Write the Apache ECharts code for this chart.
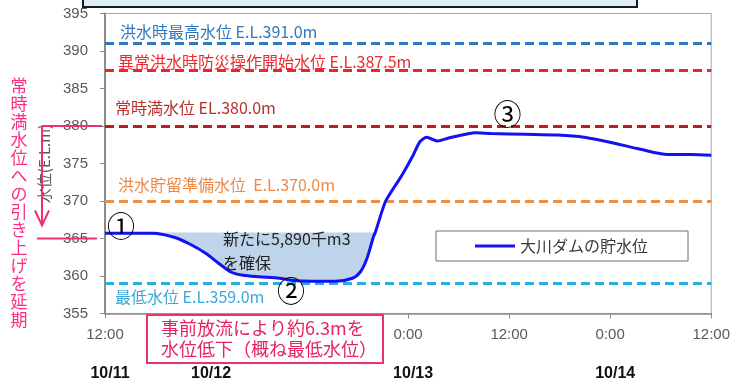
<!DOCTYPE html>
<html>
<head>
<meta charset="utf-8">
<script src="https://cdn.jsdelivr.net/npm/echarts@6/dist/echarts.min.js"></script>
<style>
  html, body { margin: 0; padding: 0; background: #fff; }
  #chart { width: 733px; height: 383px; }
</style>
</head>
<body>
<div id="chart"></div>
<script>
// Elapsed hours since 10/11 12:00 and the Okawa dam reservoir level (E.L. m)
const hours  = [0, 5.7, 8.1, 10.0, 12.0, 13.6, 15.0, 16.4, 18.3, 20.7, 22.3, 24.6, 27.4, 29.4, 30.3, 31.1, 31.9, 32.1, 33.3, 34.5, 35.3, 36.5, 37.4, 38.2, 39.5, 40.8, 42.4, 43.9, 45.9, 49.9, 53.8, 56.9, 60.1, 63.6, 66.8, 69.6, 72.0];
const levels = [365.7, 365.7, 365.2, 364.3, 363.0, 361.6, 360.5, 360.1, 359.9, 359.7, 359.4, 359.3, 359.3, 359.7, 360.5, 362.3, 365.3, 365.8, 369.9, 372.1, 373.5, 375.9, 377.9, 378.5, 378.0, 378.4, 378.8, 379.1, 379.0, 378.9, 378.8, 378.5, 377.8, 376.9, 376.2, 376.2, 376.1];

// Level at which the extra storage (shaded) is measured from
const storageTop = 365.8;

// Reference water levels
const refLevels = [391.0, 387.5, 380.0, 370.0, 359.0];
const refNames  = ['洪水時最高水位 E.L.391.0m', '異常洪水時防災操作開始水位 E.L.387.5m', '常時満水位 EL.380.0m', '洪水貯留準備水位  E.L.370.0m', '最低水位 E.L.359.0m'];
const refColors = ['#2e78bf', '#f0222c', '#c41a1a', '#f08d3e', '#27aee3'];
const refText   = ['#2e78bf', '#ee2a30', '#b8302a', '#ec8a45', '#3aa8da'];

// Axis tick labels
const timeTicks  = [0, 12, 24, 36, 48, 60, 72];
const timeLabels = ['12:00', '0:00', '12:00', '0:00', '12:00', '0:00', '12:00'];
const dateTicks  = [0, 12, 36, 60];
const dateLabels = ['10/11', '10/12', '10/13', '10/14'];

const seriesName = '大川ダムの貯水位';
const CJK = "'Noto Sans CJK JP', sans-serif";
const LAT = "'Liberation Sans', Arial, sans-serif";

const curve = hours.map((h, i) => [h, levels[i]]);

const chart = echarts.init(document.getElementById('chart'), null, { renderer: 'canvas' });

const labelPlacement = [
  { position: 'insideStartTop', distance: [15, 4] },
  { position: 'insideStartTop', distance: [13, 0] },
  { position: 'insideStartTop', distance: [10, 10] },
  { position: 'insideStartTop', distance: [13, 8] },
  { position: 'insideStartBottom', distance: [10, 5] }
];

chart.setOption({
  animation: false,
  grid: {
    left: 105, right: 19, top: 13.5, bottom: 69.5,
    show: true, borderColor: '#a8a8a8', borderWidth: 1, backgroundColor: 'transparent'
  },
  legend: {
    left: 436, top: 231,
    padding: [7, 40, 7, 39],
    borderColor: '#6f6f6f', borderWidth: 1, backgroundColor: '#fff',
    itemWidth: 40, itemHeight: 3,
    icon: 'rect',
    textStyle: { fontSize: 16, color: '#3a3a3a', fontFamily: CJK },
    data: [seriesName]
  },
  xAxis: [
    {
      type: 'value', min: 0, max: 72, interval: 12,
      axisLine: { show: true, lineStyle: { color: '#8c8c8c', width: 1.5 } },
      axisTick: { show: true, length: 5, lineStyle: { color: '#8c8c8c' } },
      splitLine: { show: false },
      axisLabel: {
        margin: 14, fontSize: 15, color: '#595959', fontFamily: LAT,
        formatter: v => timeLabels[timeTicks.indexOf(v)] || ''
      }
    },
    {
      type: 'value', min: 0, max: 72, interval: 12, position: 'bottom',
      axisLine: { show: false }, axisTick: { show: false }, splitLine: { show: false },
      axisLabel: {
        margin: 52, fontSize: 16, fontWeight: 'bold', color: '#111', fontFamily: LAT,
        padding: [0, 0, 0, 10], showMinLabel: true,
        formatter: v => { const k = dateTicks.indexOf(v); return k >= 0 ? dateLabels[k] : ''; }
      }
    }
  ],
  yAxis: {
    type: 'value', min: 355, max: 395, interval: 5,
    name: '水位(E.L.m)', nameLocation: 'middle', nameGap: 50,
    nameTextStyle: { fontSize: 15, color: '#595959', fontFamily: CJK },
    axisLine: { show: true, lineStyle: { color: '#8c8c8c', width: 2 } },
    axisTick: { show: true, length: 5, lineStyle: { color: '#8c8c8c' } },
    splitLine: { show: false },
    axisLabel: { margin: 17, fontSize: 15, color: '#595959', fontFamily: LAT }
  },
  series: [
    {
      // shaded storage gained below the starting level
      type: 'custom',
      name: 'storage',
      silent: true,
      clip: true,
      z: 1,
      data: [[0, storageTop]],
      renderItem: (params, api) => {
        let end = levels.findIndex((v, i) => i > 0 && hours[i] > 20 && v >= storageTop);
        if (end < 0) end = levels.length - 1;
        const pts = [];
        pts.push(api.coord([hours[0], storageTop]));
        for (let i = 0; i <= end; i++) pts.push(api.coord([hours[i], Math.min(levels[i], storageTop)]));
        pts.push(api.coord([hours[end], storageTop]));
        return { type: 'polygon', shape: { points: pts }, style: { fill: '#bdd4ea' } };
      }
    },
    {
      type: 'line',
      name: seriesName,
      data: curve,
      symbol: 'none',
      smooth: 0.25,
      z: 5,
      lineStyle: { color: '#1212f2', width: 3 },
      itemStyle: { color: '#1212f2' },
      markLine: {
        silent: true,
        symbol: ['none', 'none'],
        z: 3,
        data: refLevels.map((lv, i) => ({
          yAxis: lv,
          lineStyle: { color: refColors[i], type: [9, 5], width: 3 },
          label: {
            show: true,
            position: labelPlacement[i].position,
            distance: labelPlacement[i].distance,
            formatter: refNames[i],
            color: refText[i],
            fontSize: 16,
            fontFamily: CJK
          }
        }))
      }
    }
  ]
});

// Annotations placed from data coordinates
const px = (t, v) => chart.convertToPixel({ gridIndex: 0 }, [t, v]);
const y380 = px(0, 380)[1];
const y365 = px(0, 365)[1];
const pink = '#ee2f72';
const c1 = px(1.9, 366.6), c2 = px(22.1, 357.9), c3 = px(47.8, 381.6);
const note = px(14.0, 363.3);

const circled = (p, s) => ({
  type: 'text', x: p[0], y: p[1], z: 50,
  style: { text: s, font: '28px ' + CJK, fill: '#000', align: 'center', verticalAlign: 'middle' }
});

chart.setOption({
  graphic: [
    // banner box at the top edge
    { type: 'rect', z: 60, shape: { x: 83, y: -24, width: 554, height: 31 },
      style: { fill: '#ddeffa', stroke: '#1a1a1a', lineWidth: 2 } },
    // deferred rise to normal full water level
    { type: 'line', z: 60, shape: { x1: 42, y1: y380, x2: 102, y2: y380 }, style: { stroke: pink, lineWidth: 2 } },
    { type: 'line', z: 60, shape: { x1: 42, y1: y380, x2: 42, y2: y365 - 13 }, style: { stroke: pink, lineWidth: 2 } },
    { type: 'polyline', z: 60, shape: { points: [[35, y365 - 28], [42, y365 - 13], [49, y365 - 28]] }, style: { stroke: pink, lineWidth: 2, fill: null } },
    { type: 'line', z: 60, shape: { x1: 37, y1: y365, x2: 97, y2: y365 }, style: { stroke: pink, lineWidth: 2 } },
    { type: 'text', z: 60, x: 19, y: 77,
      style: { text: '常時満水位への引き上げを延期'.split('').join('\n'), font: '17px ' + CJK, lineHeight: 18, fill: '#fb2f86', align: 'center', verticalAlign: 'top' } },
    circled(c1, '①'), circled(c2, '②'), circled(c3, '③'),
    { type: 'text', z: 50, x: note[0], y: note[1],
      style: { text: '新たに5,890千m3\nを確保', font: '16px ' + CJK, lineHeight: 24, fill: '#222', align: 'left', verticalAlign: 'middle' } },
    // pre-release note
    { type: 'rect', z: 60, shape: { x: 147, y: 315, width: 236, height: 48 },
      style: { fill: '#fff', stroke: '#e8336b', lineWidth: 2 } },
    { type: 'text', z: 61, x: 161, y: 339,
      style: { text: '事前放流により約6.3mを\n水位低下（概ね最低水位）', font: '18px ' + CJK, lineHeight: 21, fill: '#e5245e', align: 'left', verticalAlign: 'middle' } }
  ]
});
</script>
</body>
</html>
